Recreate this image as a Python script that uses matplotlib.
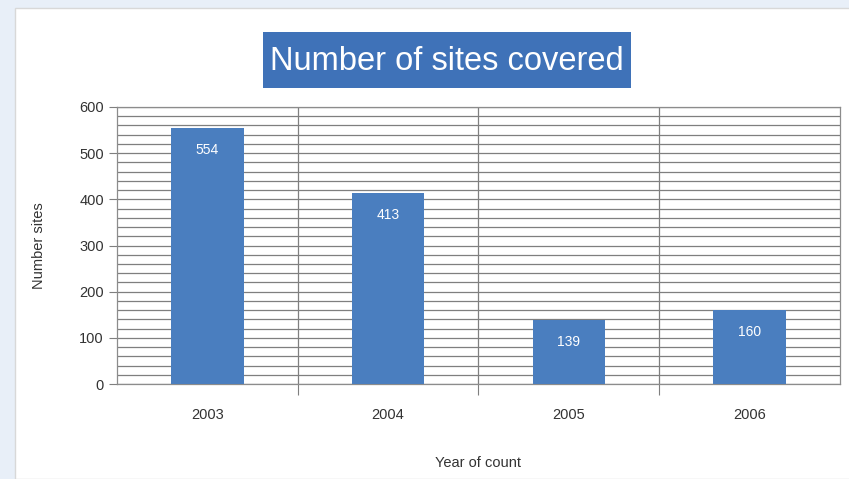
import matplotlib.pyplot as plt
from matplotlib.patches import Rectangle
from matplotlib.ticker import MultipleLocator

plt.rcParams['font.family'] = ['Liberation Sans', 'DejaVu Sans']

years = ['2003', '2004', '2005', '2006']
sites = [554, 413, 139, 160]

BAR_BLUE = '#4a7ebf'
TITLE_BLUE = '#3f72b8'

fig = plt.figure(figsize=(8.49, 4.79), dpi=100)
fig.patch.set_facecolor('#e8eff8')

# white chart panel, behind the axes
panel = Rectangle((15 / 849, 0), 1, 1 - 8 / 479, transform=fig.transFigure,
                  facecolor='white', edgecolor='#d8d8d8', lw=1.0, zorder=-10)
fig.add_artist(panel)

# title box
title_box = Rectangle((263 / 849, 1 - 88 / 479), (631 - 263) / 849, 56 / 479,
                      transform=fig.transFigure, facecolor=TITLE_BLUE,
                      edgecolor='none', zorder=-5)
fig.add_artist(title_box)

ax = fig.add_axes([117 / 849, 1 - 384 / 479, (840 - 117) / 849, (384 - 107) / 479])
ax.set_zorder(1)
ax.set_facecolor('white')

x = range(len(years))
bars = ax.bar(x, sites, width=0.4, color=BAR_BLUE, zorder=3)

for b, v in zip(bars, sites):
    ax.annotate(str(v), (b.get_x() + b.get_width() / 2, v), xytext=(0, -22),
                textcoords='offset pixels', ha='center', va='center',
                color='white', fontsize=10, zorder=4)

ax.set_xlim(-0.5, len(years) - 0.5)
ax.set_ylim(0, 600)
ax.yaxis.set_major_locator(MultipleLocator(100))
ax.yaxis.set_minor_locator(MultipleLocator(20))
ax.grid(which='both', axis='y', color='#7f7f7f', lw=0.9, zorder=1)

# category boundary lines and ticks
ax.set_xticks([i + 0.5 for i in range(len(years) - 1)], minor=False)
ax.set_xticks(list(x), minor=True)
ax.set_xticklabels([])
ax.set_xticklabels(years, minor=True)
ax.grid(which='major', axis='x', color='#7f7f7f', lw=0.9, zorder=1)
ax.tick_params(axis='x', which='major', length=8, color='#7f7f7f')
ax.tick_params(axis='x', which='minor', length=0, pad=17, labelsize=10.5, labelcolor='#333333')
ax.tick_params(axis='y', which='major', length=6, color='#7f7f7f', labelsize=10.5, labelcolor='#333333')
ax.tick_params(axis='y', which='minor', length=0)

for s in ax.spines.values():
    s.set_color('#8c8c8c')
    s.set_linewidth(0.9)

ax.set_ylabel('Number sites', fontsize=10.5, color='#333333', labelpad=24)
ax.set_xlabel('Year of count', fontsize=10.5, color='#333333', labelpad=25)

fig.text((263 + 631) / 2 / 849, 1 - 61 / 479, 'Number of sites covered',
         ha='center', va='center', color='white', fontsize=23.5)

fig.savefig('out.png', dpi=100, facecolor=fig.get_facecolor())
